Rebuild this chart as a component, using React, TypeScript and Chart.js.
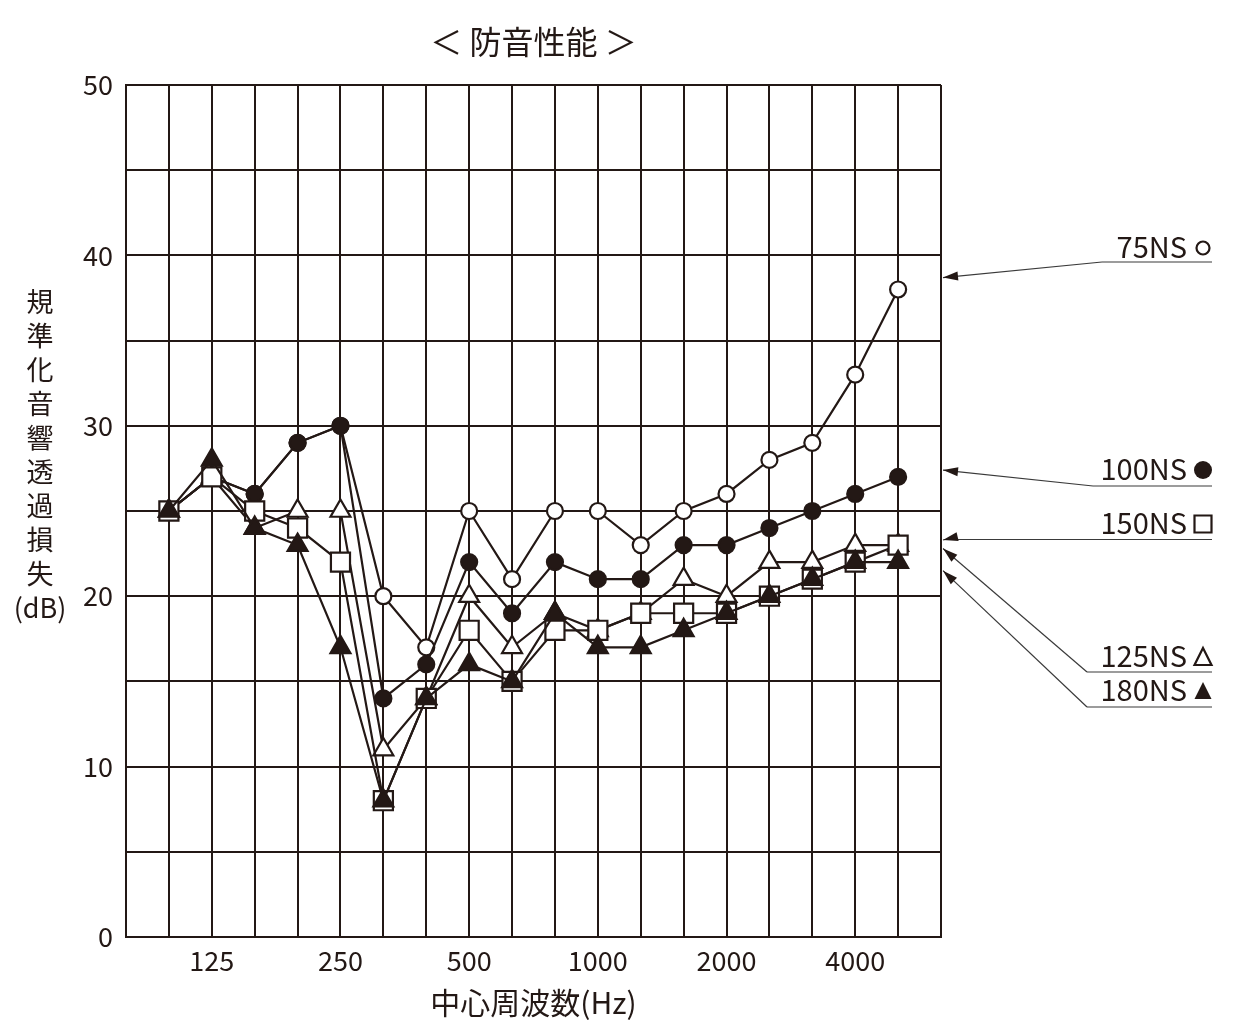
import React, { useEffect, useRef } from 'react';
import { Chart, registerables } from 'chart.js';

Chart.register(...registerables);

// ---- data ----
const FREQS = ['100', '125', '160', '200', '250', '315', '400', '500', '630', '800', '1000', '1250', '1600', '2000', '2500', '3150', '4000', '5000'];
const X_TICK_LABELS = ['125', '250', '500', '1000', '2000', '4000'];
const Y_TICK_LABELS = [0, 10, 20, 30, 40, 50];

const SERIES_NAMES = ['75NS', '100NS', '150NS', '125NS', '180NS'];
const NS75 = [25, 27, 26, 29, 30, 20, 17, 25, 21, 25, 25, 23, 25, 26, 28, 29, 33, 38];
const NS100 = [25, 27, 26, 29, 30, 14, 16, 22, 19, 22, 21, 21, 23, 23, 24, 25, 26, 27];
const NS150 = [25, 27, 25, 24, 22, 8, 14, 18, 15, 18, 18, 19, 19, 19, 20, 21, 22, 23];
const NS125 = [25, 27, 24, 25, 25, 11, 14, 20, 17, 19, 18, 19, 21, 20, 22, 22, 23, 23];
const NS180 = [25, 28, 24, 23, 17, 8, 14, 16, 15, 19, 17, 17, 18, 19, 20, 21, 22, 22];
// dB level each legend arrow points at on the right edge
const ARROW_TARGET_DB = [38.7, 27.4, 23.3, 22.8, 21.5];

const TITLE = '＜ 防音性能 ＞';
const Y_TITLE_CHARS = ['規', '準', '化', '音', '響', '透', '過', '損', '失'];
const Y_TITLE_UNIT = '(dB)';
const X_TITLE = '中心周波数(Hz)';

// ---- style ----
const INK = '#231815';
const FONT = "'Noto Sans CJK JP', 'Noto Sans', sans-serif";

type Sym = 'openCircle' | 'filledCircle' | 'openSquare' | 'openTriangle' | 'filledTriangle';
const LEGEND_SYMBOLS: Sym[] = ['openCircle', 'filledCircle', 'openSquare', 'openTriangle', 'filledTriangle'];
const LEGEND_TEXT_Y = [247, 469, 523, 656, 690];
const LEGEND_LINE_Y = [262, 486, 539.5, 672, 707];
const LEGEND_LINE_X0 = [1102, 1093, 945, 1087, 1087];

function drawSymbol(ctx: CanvasRenderingContext2D, sym: Sym, x: number, y: number) {
  ctx.save();
  ctx.lineWidth = 2.2;
  ctx.strokeStyle = INK;
  ctx.fillStyle = INK;
  ctx.beginPath();
  if (sym === 'openCircle') {
    ctx.arc(x, y, 6.5, 0, Math.PI * 2);
    ctx.stroke();
  } else if (sym === 'filledCircle') {
    ctx.arc(x, y, 9, 0, Math.PI * 2);
    ctx.fill();
  } else if (sym === 'openSquare') {
    ctx.rect(x - 8.5, y - 8.5, 17, 17);
    ctx.stroke();
  } else {
    ctx.moveTo(x, y - 9);
    ctx.lineTo(x + 8.5, y + 8);
    ctx.lineTo(x - 8.5, y + 8);
    ctx.closePath();
    if (sym === 'filledTriangle') ctx.fill();
    else ctx.stroke();
  }
  ctx.restore();
}

function drawArrow(ctx: CanvasRenderingContext2D, x1: number, y1: number, x2: number, y2: number) {
  ctx.beginPath();
  ctx.moveTo(x1, y1);
  ctx.lineTo(x2, y2);
  ctx.stroke();
  const ang = Math.atan2(y2 - y1, x2 - x1);
  const len = 15;
  const hw = 4.5;
  const bx = x2 - Math.cos(ang) * len;
  const by = y2 - Math.sin(ang) * len;
  ctx.beginPath();
  ctx.moveTo(x2, y2);
  ctx.lineTo(bx - Math.sin(ang) * hw, by + Math.cos(ang) * hw);
  ctx.lineTo(bx + Math.sin(ang) * hw, by - Math.cos(ang) * hw);
  ctx.closePath();
  ctx.fill();
}

const annotationPlugin = {
  id: 'annotations',
  afterDraw(chart: any) {
    const { ctx, chartArea, scales } = chart;
    const ys = scales.y;
    const cx = (chartArea.left + chartArea.right) / 2;
    ctx.save();
    ctx.fillStyle = INK;
    ctx.textBaseline = 'middle';
    ctx.textAlign = 'center';

    // title
    ctx.font = `32px ${FONT}`;
    ctx.fillText(TITLE, cx, 42);

    // y title (stacked characters)
    ctx.font = `27px ${FONT}`;
    Y_TITLE_CHARS.forEach((ch, i) => ctx.fillText(ch, 40, 302 + i * 34));
    ctx.fillText(Y_TITLE_UNIT, 40, 302 + Y_TITLE_CHARS.length * 34);

    // x title
    ctx.font = `30px ${FONT}`;
    ctx.fillText(X_TITLE, cx, 1003);

    // legend with arrows
    ctx.font = `29px ${FONT}`;
    ctx.textAlign = 'right';
    const tipX = chartArea.right + 2;
    SERIES_NAMES.forEach((name, i) => {
      ctx.fillStyle = INK;
      ctx.fillText(name, 1187, LEGEND_TEXT_Y[i]);
      drawSymbol(ctx, LEGEND_SYMBOLS[i], 1203, LEGEND_TEXT_Y[i] + 1);
      ctx.strokeStyle = '#3a3a3a';
      ctx.fillStyle = INK;
      ctx.lineWidth = 1.2;
      ctx.beginPath();
      ctx.moveTo(1212, LEGEND_LINE_Y[i]);
      ctx.lineTo(LEGEND_LINE_X0[i], LEGEND_LINE_Y[i]);
      ctx.stroke();
      const ty = ys.getPixelForValue(ARROW_TARGET_DB[i]);
      drawArrow(ctx, LEGEND_LINE_X0[i], LEGEND_LINE_Y[i], tipX, ty);
    });
    ctx.restore();
  },
};

function makeDataset(label: string, values: number[], style: string, fill: string, radius: number, order: number) {
  return {
    label,
    data: values.map((v, i) => ({ x: i, y: v })),
    borderColor: INK,
    borderWidth: 2.2,
    pointStyle: style,
    pointRadius: radius,
    pointBackgroundColor: fill,
    pointBorderColor: INK,
    pointBorderWidth: 2.2,
    tension: 0,
    order,
  };
}

export default function App() {
  const ref = useRef<HTMLCanvasElement | null>(null);
  useEffect(() => {
    if (!ref.current) return;
    const chart = new Chart(ref.current, {
      type: 'line',
      data: {
        datasets: [
          makeDataset(SERIES_NAMES[0], NS75, 'circle', '#ffffff', 8, 4),
          makeDataset(SERIES_NAMES[1], NS100, 'circle', INK, 8, 3),
          makeDataset(SERIES_NAMES[3], NS125, 'triangle', '#ffffff', 11.5, 2),
          makeDataset(SERIES_NAMES[2], NS150, 'rect', '#ffffff', 13.5, 1),
          makeDataset(SERIES_NAMES[4], NS180, 'triangle', INK, 11.5, 0),
        ] as any,
      },
      options: {
        animation: false,
        responsive: false,
        devicePixelRatio: 1,
        layout: { padding: { top: 85, right: 301, left: 0, bottom: 0 } },
        plugins: {
          legend: { display: false },
          tooltip: { enabled: false },
          title: { display: false },
        },
        scales: {
          x: {
            type: 'linear',
            min: -1,
            max: FREQS.length,
            afterFit: (s: any) => { s.height = 95; },
            grid: { color: INK, lineWidth: 2, drawTicks: false },
            border: { color: INK, width: 2 },
            ticks: {
              stepSize: 1,
              autoSkip: false,
              maxRotation: 0,
              padding: 8,
              color: INK,
              font: { family: FONT, size: 27 },
              callback: (v: any) => {
                const i = Math.round(Number(v));
                const f = FREQS[i];
                return f && X_TICK_LABELS.includes(f) ? f : '';
              },
            },
          },
          y: {
            min: 0,
            max: 50,
            afterFit: (s: any) => { s.width = 126; },
            grid: { color: INK, lineWidth: 2, drawTicks: false },
            border: { color: INK, width: 2 },
            ticks: {
              stepSize: 5,
              autoSkip: false,
              padding: 13,
              color: INK,
              font: { family: FONT, size: 27 },
              callback: (v: any) => (Y_TICK_LABELS.includes(Number(v)) ? String(v) : ''),
            },
          },
        },
      } as any,
      plugins: [annotationPlugin],
    });
    return () => chart.destroy();
  }, []);
  return (
    <div style={{ position: 'absolute', left: 0, top: 0, width: 1242, height: 1032, background: '#fff' }}>
      <canvas ref={ref} width={1242} height={1032} />
    </div>
  );
}
